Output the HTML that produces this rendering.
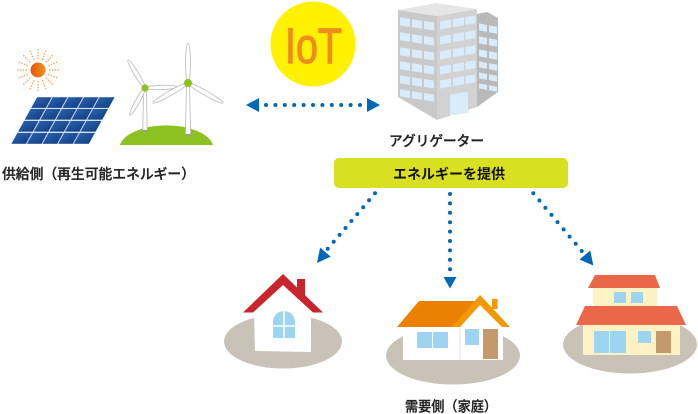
<!DOCTYPE html>
<html><head><meta charset="utf-8">
<style>
html,body{margin:0;padding:0;background:#fff;}
svg{display:block;}
text{font-family:"Liberation Sans","Noto Sans CJK JP",sans-serif;}
</style></head><body>
<svg width="698" height="414" viewBox="0 0 698 414" xmlns="http://www.w3.org/2000/svg">
<defs>
<linearGradient id="sun" x1="0" x2="1"><stop offset="0" stop-color="#e8540c"/><stop offset="1" stop-color="#f3901f"/></linearGradient>
<linearGradient id="cell" x1="0" y1="0" x2="1" y2="1"><stop offset="0" stop-color="#2a62ad"/><stop offset="1" stop-color="#123f82"/></linearGradient>
</defs>

<!-- Sun -->
<g stroke="#f6a860" stroke-width="1.4" stroke-dasharray="1.4 1.4">
<line x1="49" y1="70" x2="59" y2="70"/>
<line x1="48.2" y1="74.2" x2="57.4" y2="78"/>
<line x1="45.8" y1="77.8" x2="52.8" y2="84.8"/>
<line x1="42.2" y1="80.2" x2="46" y2="89.4"/>
<line x1="38" y1="81" x2="38" y2="91"/>
<line x1="33.8" y1="80.2" x2="30" y2="89.4"/>
<line x1="30.2" y1="77.8" x2="23.2" y2="84.8"/>
<line x1="27.8" y1="74.2" x2="18.6" y2="78"/>
<line x1="27" y1="70" x2="17" y2="70"/>
<line x1="27.8" y1="65.8" x2="18.6" y2="62"/>
<line x1="30.2" y1="62.2" x2="23.2" y2="55.2"/>
<line x1="33.8" y1="59.8" x2="30" y2="50.6"/>
<line x1="38" y1="59" x2="38" y2="49"/>
<line x1="42.2" y1="59.8" x2="46" y2="50.6"/>
<line x1="45.8" y1="62.2" x2="52.8" y2="55.2"/>
<line x1="48.2" y1="65.8" x2="57.4" y2="62"/>
</g>
<circle cx="38" cy="70" r="7.5" fill="url(#sun)"/>

<!-- Solar panel -->
<g transform="matrix(1,0,-0.553,1,37,97)">
<rect x="0" y="0" width="78" height="47" fill="#d5e0ee"/>
<g fill="url(#cell)">
<rect x="0.3" y="0.3" width="14.5" height="10.6"/><rect x="15.9" y="0.3" width="14.5" height="10.6"/><rect x="31.5" y="0.3" width="14.5" height="10.6"/><rect x="47.1" y="0.3" width="14.5" height="10.6"/><rect x="62.7" y="0.3" width="15" height="10.6"/>
<rect x="0.3" y="12" width="14.5" height="10.6"/><rect x="15.9" y="12" width="14.5" height="10.6"/><rect x="31.5" y="12" width="14.5" height="10.6"/><rect x="47.1" y="12" width="14.5" height="10.6"/><rect x="62.7" y="12" width="15" height="10.6"/>
<rect x="0.3" y="24" width="14.5" height="10.6"/><rect x="15.9" y="24" width="14.5" height="10.6"/><rect x="31.5" y="24" width="14.5" height="10.6"/><rect x="47.1" y="24" width="14.5" height="10.6"/><rect x="62.7" y="24" width="15" height="10.6"/>
<rect x="0.3" y="36" width="14.5" height="10.8"/><rect x="15.9" y="36" width="14.5" height="10.8"/><rect x="31.5" y="36" width="14.5" height="10.8"/><rect x="47.1" y="36" width="14.5" height="10.8"/><rect x="62.7" y="36" width="15" height="10.8"/>
</g>
</g>

<!-- Wind turbines -->
<path d="M120,145 A47,23 0 0 1 213,145 Z" fill="#8cc21f"/>
<g fill="#ffffff" stroke="#b8b8b8" stroke-width="0.8">
<polygon points="143.5,88 146.5,88 147.2,131 142.8,131"/>
<polygon points="186.5,83 189.5,83 190.6,135 185.4,135"/>
<ellipse cx="136.5" cy="74" rx="16.4" ry="2.2" transform="rotate(-121.3 136.5 74)"/>
<ellipse cx="161" cy="87.5" rx="16" ry="2.2" transform="rotate(-1.8 161 87.5)"/>
<ellipse cx="137.5" cy="101.5" rx="15.5" ry="2.2" transform="rotate(119 137.5 101.5)"/>
<ellipse cx="188" cy="63" rx="20" ry="2.4" transform="rotate(-90 188 63)"/>
<ellipse cx="170.5" cy="93" rx="20.2" ry="2.4" transform="rotate(150.3 170.5 93)"/>
<ellipse cx="205.5" cy="93" rx="20.2" ry="2.4" transform="rotate(29.7 205.5 93)"/>
</g>
<ellipse cx="145" cy="131" rx="3" ry="1.2" fill="#9aa08a"/>
<ellipse cx="188" cy="135" rx="3.5" ry="1.3" fill="#9aa08a"/>
<circle cx="145" cy="88" r="3.6" fill="#8cc21f"/>
<circle cx="188" cy="83" r="4" fill="#8cc21f"/>

<text x="2" y="179" font-size="14" font-weight="500" fill="#222" stroke="#222" stroke-width="0.3" textLength="193" lengthAdjust="spacingAndGlyphs">供給側（再生可能エネルギー）</text>

<!-- IoT -->
<circle cx="313" cy="44" r="42.5" fill="#fff100"/>
<text x="285" y="63" font-size="50" fill="#f08c1e" stroke="#f08c1e" stroke-width="1.2" textLength="57" lengthAdjust="spacingAndGlyphs">IoT</text>

<!-- double arrow -->
<g fill="#0068b7">
<polygon points="246,105 259,98 259,112"/>
<polygon points="380,105 367,98 367,112"/>
<circle cx="266" cy="105" r="2"/><circle cx="275.4" cy="105" r="2"/><circle cx="284.8" cy="105" r="2"/><circle cx="294.2" cy="105" r="2"/><circle cx="303.6" cy="105" r="2"/><circle cx="313" cy="105" r="2"/><circle cx="322.4" cy="105" r="2"/><circle cx="331.8" cy="105" r="2"/><circle cx="341.2" cy="105" r="2"/><circle cx="350.6" cy="105" r="2"/><circle cx="360" cy="105" r="2"/>
</g>

<!-- Building -->
<polygon points="477,14 487,12 498,18 498,92 477,107" fill="#b9b9b9"/>
<polygon points="398,10 437,16 437,120 398,97" fill="#c9c9c9"/>
<polygon points="437,16 477,9 477,107 437,120" fill="#d2d2d2"/>
<polygon points="398,10 436,3 477,9 437,16" fill="#e6e6e6"/>
<g fill="#d8ecfb" transform="matrix(1,0.154,0,1,398,10)">
<rect x="2" y="7" width="10" height="8"/><rect x="14" y="7" width="10" height="8"/><rect x="26" y="7" width="10" height="8"/>
<rect x="2" y="22" width="10" height="8"/><rect x="14" y="22" width="10" height="8"/><rect x="26" y="22" width="10" height="8"/>
<rect x="2" y="37" width="10" height="8"/><rect x="14" y="37" width="10" height="8"/><rect x="26" y="37" width="10" height="8"/>
<rect x="2" y="51" width="10" height="8"/><rect x="14" y="51" width="10" height="8"/><rect x="26" y="51" width="10" height="8"/>
<rect x="2" y="65" width="10" height="8"/><rect x="14" y="65" width="10" height="8"/><rect x="26" y="65" width="10" height="8"/>
<rect x="2" y="79" width="10" height="7"/><rect x="14" y="79" width="10" height="7"/><rect x="26" y="79" width="10" height="7"/>
</g>
<g fill="#d8ecfb" transform="matrix(1,-0.175,0,1,437,16)">
<rect x="3" y="6" width="11" height="8"/><rect x="16" y="6" width="11" height="8"/><rect x="28.5" y="6" width="10" height="8"/>
<rect x="3" y="21" width="11" height="8"/><rect x="16" y="21" width="11" height="8"/><rect x="28.5" y="21" width="10" height="8"/>
<rect x="3" y="36" width="11" height="8"/><rect x="16" y="36" width="11" height="8"/><rect x="28.5" y="36" width="10" height="8"/>
<rect x="3" y="51" width="11" height="8"/><rect x="16" y="51" width="11" height="8"/><rect x="28.5" y="51" width="10" height="8"/>
<rect x="3" y="65" width="11" height="8"/><rect x="16" y="65" width="11" height="8"/><rect x="28.5" y="65" width="10" height="8"/>
<rect x="13" y="81" width="18" height="21"/>
</g>
<g fill="#d8ecfb" transform="matrix(1,0.19,0,1,477,15)">
<rect x="2" y="8" width="8" height="7"/><rect x="12" y="8" width="8" height="7"/>
<rect x="2" y="21" width="8" height="7"/><rect x="12" y="21" width="8" height="7"/>
<rect x="2" y="34" width="8" height="7"/><rect x="12" y="34" width="8" height="7"/>
<rect x="2" y="46" width="8" height="6"/><rect x="12" y="46" width="8" height="6"/>
<rect x="2" y="57" width="8" height="6"/><rect x="12" y="57" width="8" height="6"/>
<rect x="2" y="68" width="8" height="5"/><rect x="12" y="68" width="8" height="5"/>
</g>

<text x="389" y="146" font-size="14" font-weight="500" fill="#222" stroke="#222" stroke-width="0.3" textLength="95" lengthAdjust="spacingAndGlyphs">アグリゲーター</text>

<!-- Bar -->
<rect x="334" y="158" width="234" height="30" rx="5" fill="#d9df21"/>
<text x="393" y="179" font-size="14" font-weight="700" fill="#111" textLength="112" lengthAdjust="spacingAndGlyphs">エネルギーを提供</text>

<!-- down arrows -->
<g fill="#0068b7">
<circle cx="375" cy="193.3" r="2"/><circle cx="369.1" cy="200.2" r="2"/><circle cx="363.2" cy="207.2" r="2"/><circle cx="357.3" cy="214.1" r="2"/><circle cx="351.4" cy="221" r="2"/><circle cx="345.5" cy="228" r="2"/><circle cx="339.6" cy="234.9" r="2"/><circle cx="333.7" cy="241.8" r="2"/><circle cx="327.7" cy="248.7" r="2"/>
<polygon points="317,263 330.7,256.6 320.1,247.6"/>
<circle cx="450" cy="194" r="2"/><circle cx="450" cy="203.4" r="2"/><circle cx="450" cy="212.8" r="2"/><circle cx="450" cy="222.2" r="2"/><circle cx="450" cy="231.6" r="2"/><circle cx="450" cy="241" r="2"/><circle cx="450" cy="250.4" r="2"/><circle cx="450" cy="259.8" r="2"/><circle cx="450" cy="269.2" r="2"/>
<polygon points="443.5,277 456.5,277 450,288.5"/>
<circle cx="533.3" cy="193.3" r="2"/><circle cx="539.4" cy="200.5" r="2"/><circle cx="545.4" cy="207.7" r="2"/><circle cx="551.5" cy="214.9" r="2"/><circle cx="557.5" cy="222.1" r="2"/><circle cx="563.6" cy="229.4" r="2"/><circle cx="569.6" cy="236.6" r="2"/><circle cx="575.7" cy="243.8" r="2"/><circle cx="581.7" cy="251" r="2"/>
<polygon points="593.3,265.5 590.3,250.5 579.5,259.5"/>
</g>

<!-- House 1 -->
<ellipse cx="283" cy="341.5" rx="59" ry="27" fill="#c9c2b7"/>
<rect x="297" y="279" width="8" height="20" fill="#c9252c"/>
<polygon points="254,312 283,284 311,312 311,352 255,351" fill="#ffffff"/>
<polygon points="243,312.5 283,274 323,312.5 313,312.5 283,285 253,312.5" fill="#c9252c"/>
<path d="M273,322 A11,11 0 0 1 295,322 L295,338 L273,338 Z" fill="#9dd4f1"/>
<line x1="284" y1="311" x2="284" y2="338" stroke="#fff" stroke-width="1.6"/>
<line x1="273" y1="326" x2="295" y2="326" stroke="#fff" stroke-width="1.6"/>

<!-- House 2 -->
<ellipse cx="453" cy="355.5" rx="67" ry="29" fill="#c9c2b7"/>
<rect x="403" y="326" width="100" height="34" fill="#ffffff"/>
<line x1="460" y1="327" x2="460" y2="360" stroke="#e2e2e2" stroke-width="1"/>
<polygon points="460,327 480,304 502,327" fill="#ffffff"/>
<rect x="492" y="299" width="5.5" height="10" fill="#f39800"/>
<polygon points="397,327 419,301 480,301 458,327" fill="#ec8000"/>
<polygon points="452,327 480,295 510,327 502,327 480,305 460,327" fill="#f39800"/>
<rect x="417" y="332" width="15" height="16" fill="#9dd4f1"/>
<rect x="433" y="332" width="15" height="16" fill="#9dd4f1"/>
<rect x="465" y="329" width="14" height="16" fill="#9dd4f1"/>
<rect x="483" y="329" width="15" height="30" fill="#c49a6c"/>

<!-- House 3 -->
<ellipse cx="630" cy="344.5" rx="67" ry="29" fill="#c9c2b7"/>
<rect x="593" y="287" width="64" height="20" fill="#fcf2c3"/>
<polygon points="595,275 655,275 660,288 588,288" fill="#ea674a"/>
<rect x="614" y="292" width="12" height="11" fill="#9dd4f1"/>
<rect x="631" y="292" width="12" height="11" fill="#9dd4f1"/>
<rect x="583" y="324" width="97" height="31" fill="#fcf2c3"/>
<polygon points="585,306 677,306 686,325 576,325" fill="#ea674a"/>
<rect x="594" y="331" width="15" height="22" fill="#9dd4f1"/>
<rect x="610" y="331" width="16" height="22" fill="#9dd4f1"/>
<rect x="638" y="331" width="13" height="12" fill="#9dd4f1"/>
<rect x="656" y="331" width="15" height="22" fill="#c49a6c"/>

<text x="405" y="411.5" font-size="14" font-weight="500" fill="#222" stroke="#222" stroke-width="0.3" textLength="92" lengthAdjust="spacingAndGlyphs">需要側（家庭）</text>
</svg>
</body></html>
